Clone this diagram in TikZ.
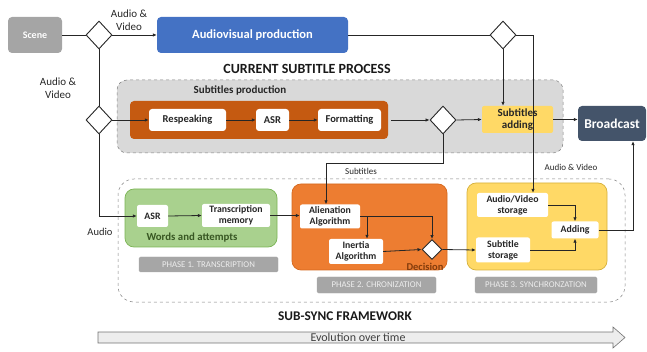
\documentclass[tikz,border=0pt]{standalone}
\usepackage{fontspec}
\setmainfont{Carlito}
\usetikzlibrary{shapes.geometric,arrows.meta,calc}
\definecolor{scenegray}{HTML}{A5A5A5}
\definecolor{avblue}{HTML}{4472C4}
\definecolor{contgray}{HTML}{D9D9D9}
\definecolor{darkorange}{HTML}{C55A11}
\definecolor{midorange}{HTML}{ED7D31}
\definecolor{gold}{HTML}{FFD966}
\definecolor{darkgold}{HTML}{D6B13C}
\definecolor{slate}{HTML}{44546A}
\definecolor{lgreen}{HTML}{A9D18E}
\definecolor{dgreen}{HTML}{70AD47}
\definecolor{wgreen}{HTML}{385723}
\definecolor{brown}{HTML}{843C0C}
\definecolor{labgray}{HTML}{A6A6A6}
\definecolor{evofill}{HTML}{EDEDED}
\tikzset{
  box/.style={rounded corners=4pt, inner sep=0pt, align=center, font=\bfseries\fontsize{9.5}{11}\selectfont},
  bigbox/.style={box, font=\bfseries\fontsize{12.5}{14}\selectfont, text=white},
  wbox/.style={rounded corners=2pt, fill=white, inner sep=0pt, align=center, font=\bfseries\fontsize{9.8}{11}\selectfont, text=black!85},
  dia/.style={diamond, draw=black!85, fill=white, line width=0.9pt, inner sep=0pt, minimum width=26pt, minimum height=28pt},
  sdia/.style={diamond, draw=black!85, fill=white, line width=0.9pt, inner sep=0pt, minimum width=20pt, minimum height=20pt},
  conn/.style={line width=0.8pt, draw=black!85},
  arr/.style={conn, -{Latex[length=4pt,width=3.5pt]}},
  lbl/.style={font=\fontsize{9}{10.5}\selectfont, align=center, text=black!85},
  biglbl/.style={font=\fontsize{11}{13}\selectfont, align=center, text=black!85},
  title/.style={font=\bfseries\fontsize{14}{16}\selectfont, text=black!90},
  phaselbl/.style={fill=labgray, draw=black!35, rounded corners=1.5pt, inner sep=0pt, text=white!93!black, font=\fontsize{8.8}{10}\selectfont},
  phasebox/.style={rounded corners=9pt, inner sep=0pt, line width=0.7pt}
}
\begin{document}
\begin{tikzpicture}[x=1pt,y=-1pt]
\useasboundingbox (0,0) rectangle (647,352);
% containers
\node[phasebox, fill=contgray, draw=black!50, dashed, line width=0.5pt, rounded corners=10pt, minimum width=446pt, minimum height=73pt] (cont) at (340,116.5) {};
\node[font=\bfseries\fontsize{11}{13}\selectfont, text=black!85] (subprod) at (240,91) {Subtitles production};
\node[rounded corners=4pt, fill=darkorange, minimum width=258pt, minimum height=38pt, inner sep=0pt] (orng) at (259,120) {};
\node[rounded corners=16pt, draw=black!50, dashed, line width=0.5pt, minimum width=507pt, minimum height=123pt, inner sep=0pt] (sync) at (371.5,240.5) {};
\node[phasebox, fill=lgreen, draw=dgreen!80!lgreen, minimum width=152pt, minimum height=58pt] (p1) at (201,218) {};
\node[phasebox, fill=midorange, draw=darkorange!60!midorange, minimum width=155pt, minimum height=86pt] (p2) at (369.5,227) {};
\node[phasebox, fill=gold, draw=darkgold, minimum width=140pt, minimum height=87pt] (p3) at (537,226.5) {};
% titles
\node[title] (cur) at (307,69) {CURRENT SUBTITLE PROCESS};
\node[title, font=\bfseries\fontsize{13.3}{15}\selectfont] (sst) at (345,316) {SUB-SYNC FRAMEWORK};
% top row
\node[bigbox, fill=scenegray, minimum width=54pt, minimum height=36pt, font=\bfseries\fontsize{10}{12}\selectfont] (scene) at (35,35) {Scene};
\node[bigbox, fill=avblue, minimum width=191pt, minimum height=36pt] (av) at (252.5,35) {Audiovisual production};
\node[dia] (d1) at (99,35) {};
\node[dia] (d2) at (503,35) {};
\node[dia] (d3) at (99,120) {};
\node[dia] (d4) at (443,120) {};
\node[box, fill=gold, rounded corners=2pt, minimum width=71pt, minimum height=27pt, text=black!85, font=\bfseries\fontsize{11}{12.5}\selectfont] (sadd) at (517.5,119.5) {Subtitles\\adding};
\node[bigbox, fill=slate, minimum width=68pt, minimum height=35pt, font=\bfseries\fontsize{13.5}{15}\selectfont] (bc) at (612,123.5) {Broadcast};
% subtitle production row
\node[wbox, rounded corners=3pt, minimum width=77pt, minimum height=22pt, font=\bfseries\fontsize{10.5}{12}\selectfont] (resp) at (187.5,120) {Respeaking};
\node[wbox, rounded corners=3pt, minimum width=33pt, minimum height=22pt, font=\bfseries\fontsize{10.5}{12}\selectfont] (asr1) at (272.5,120) {ASR};
\node[wbox, rounded corners=3pt, minimum width=63pt, minimum height=22pt, font=\bfseries\fontsize{10.5}{12}\selectfont] (fmt) at (349.5,120) {Formatting};
% phase 1
\node[wbox, minimum width=31pt, minimum height=22pt] (asr2) at (152.5,216) {ASR};
\node[wbox, minimum width=68pt, minimum height=23pt] (tm) at (236,215.5) {Transcription\\memory};
\node[font=\bfseries\fontsize{10.8}{12}\selectfont, text=wgreen] (wa) at (192,237.5) {Words and attempts};
\node[phaselbl, minimum width=139pt, minimum height=15pt] (pl1) at (208.5,264.5) {PHASE 1. TRANSCRIPTION};
% phase 2
\node[wbox, minimum width=60pt, minimum height=24pt] (alien) at (330,216.5) {Alienation\\Algorithm};
\node[wbox, minimum width=54pt, minimum height=25pt] (inert) at (356,251.5) {Inertia\\Algorithm};
\node[sdia] (dec) at (432,249.5) {};
\node[font=\bfseries\fontsize{10.5}{12}\selectfont, text=brown] (dect) at (425,266.5) {Decision};
\node[phaselbl, minimum width=119pt, minimum height=16pt] (pl2) at (376.5,285) {PHASE 2. CHRONIZATION};
% phase 3
\node[wbox, minimum width=71pt, minimum height=24pt] (avs) at (512.5,205) {Audio/Video\\storage};
\node[wbox, minimum width=54pt, minimum height=25pt] (sts) at (503,250) {Subtitle\\storage};
\node[wbox, minimum width=47pt, minimum height=17pt] (add) at (575,230) {Adding};
\node[phaselbl, minimum width=122pt, minimum height=16pt] (pl3) at (536,285) {PHASE 3. SYNCHRONZATION};
% helper coordinates
\coordinate (avx) at (533,0);
\coordinate (bcx) at (633,0);
\coordinate (subx) at (326,163);
\coordinate (br) at (367,216.5);
% connectors
\draw[conn] (scene.east) -- (d1.west);
\draw[arr] (d1.east) -- (av.west);
\draw[conn] (av.east) -- (d2.west);
\draw[arr] (d2.south) -- (sadd.north -| d2.south);
\draw[arr] (d2.east) -| (avx |- avs.north);
\draw[conn] (d1.south) -- (d3.north);
\draw[arr] (d3.east) -- (resp.west);
\draw[arr] (resp.east) -- (asr1.west);
\draw[arr] (asr1.east) -- (fmt.west);
\draw[arr, shorten <=3pt] (orng.east) -- (d4.west);
\draw[arr] (d4.east) -- (sadd.west);
\draw[arr] (sadd.east) -- (sadd.east -| bc.west);
\draw[arr] (d4.south) |- (subx) -- (subx |- alien.north);
\draw[arr] (d3.south) |- (asr2.west);
\draw[arr] (asr2.east) -- (tm.west);
\draw[arr] (tm.east) -- (tm.east -| alien.west);
\draw[arr] (alien.east) -| (dec.north);
\draw[arr] (br) -- (br |- inert.north);
\draw[arr] (inert.east -| inert.east) -- (dec.west);
\draw[arr] (dec.east) -- (sts.west);
\draw[arr] (avs.east) -| (add.north);
\draw[arr] (sts.east) -| (add.south);
\draw[arr] (add.east) -| (bcx |- bc.south);
% labels
\node[biglbl] (l1) at (129,20) {Audio \&\\Video};
\node[biglbl] (l2) at (58,88) {Audio \&\\Video};
\node[lbl] (l3) at (361,171) {Subtitles};
\node[lbl] (l4) at (571,167) {Audio \& Video};
\node[biglbl, font=\fontsize{10.5}{12}\selectfont] (l5) at (100,232) {Audio};
% evolution arrow
\draw[draw=black!55, fill=evofill, line width=0.6pt] (98,332) -- (613,332) -- (613,327) -- (625,337.5) -- (613,348) -- (613,343) -- (98,343) -- cycle;
\node[font=\fontsize{12}{14}\selectfont, text=black!75] (evo) at (358,337.5) {Evolution over time};
\end{tikzpicture}
\end{document}
